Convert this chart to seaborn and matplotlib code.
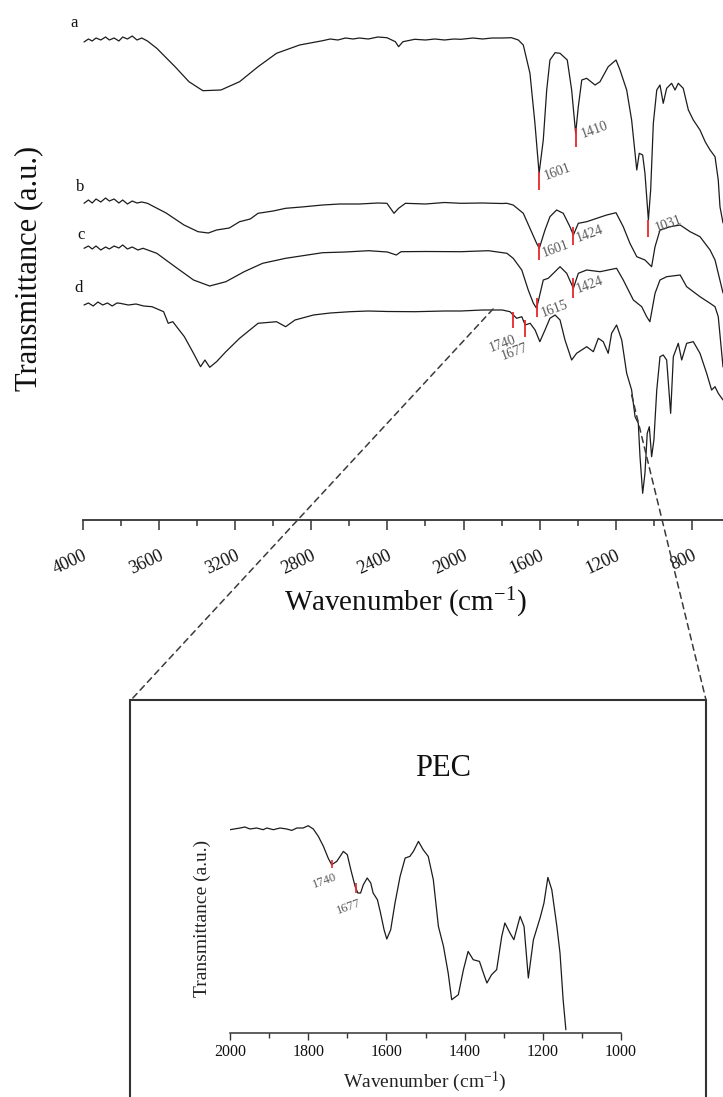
import numpy as np
import matplotlib
matplotlib.use("Agg")
import matplotlib.pyplot as plt
import seaborn as sns
from matplotlib.patches import Rectangle, ConnectionPatch
from matplotlib.ticker import MultipleLocator, FixedLocator

# ---------------- data ----------------
# spectrum a
a_wn = [3993, 3970, 3950, 3930, 3905, 3880, 3860, 3835, 3810, 3790, 3765, 3740, 3715, 3690, 3660,
        3611, 3515, 3442, 3369, 3274, 3176, 3079, 2982, 2861, 2740, 2700, 2660, 2620, 2580, 2547,
        2500, 2450, 2402, 2358, 2341, 2318, 2256, 2200, 2150, 2100, 2050, 2014, 1950, 1900, 1850,
        1800, 1748, 1712, 1686, 1651, 1625, 1603, 1581, 1563, 1546, 1519, 1493, 1455, 1432, 1411,
        1397, 1379, 1353, 1309, 1283, 1240, 1199, 1178, 1143, 1117, 1099, 1090, 1077, 1059, 1047,
        1029, 1017, 1003, 985, 968, 951, 933, 907, 889, 872, 846, 819, 793, 758, 730, 705, 679,
        662, 653, 637]
a_t = [478, 481, 479, 482, 480, 483, 480, 482, 479, 483, 481, 484, 480, 482, 479,
       471.7, 453.3, 438.3, 429.3, 430, 438.3, 453.3, 466.7, 475, 479.3, 481, 480, 482, 481, 482,
       481, 483, 482.3, 478.3, 473.3, 478.3, 480.7, 480, 481, 480, 481, 480.7, 482, 481, 482,
       482, 482.3, 480, 475, 446.7, 397, 346.7, 380, 430, 460, 467.3, 466.7, 460, 430, 386.7,
       413.3, 440, 441.7, 435, 438.3, 453.3, 460, 450, 430, 400, 366.7, 350, 366.7, 365, 346.7,
       300, 330, 396.7, 430, 435, 416.7, 431.7, 436.7, 430, 436.7, 431.7, 410, 400, 390, 378, 370, 363.3,
       340, 313.3, 297]

# spectrum b
b_wn = [3993, 3970, 3950, 3930, 3905, 3880, 3860, 3835, 3810, 3790, 3765, 3740, 3715, 3690, 3660,
        3562, 3468, 3394, 3340, 3297, 3230, 3176, 3120, 3079, 3000, 2934, 2850, 2740, 2650, 2547,
        2450, 2402, 2365, 2341, 2305, 2200, 2100, 2014, 1900, 1800, 1772, 1739, 1686, 1651, 1616,
        1602, 1572, 1546, 1511, 1476, 1441, 1423, 1397, 1353, 1300, 1248, 1199, 1161, 1126, 1090,
        1047, 1012, 994, 968, 915, 862, 810, 758, 705, 679, 662, 637]
b_t = [316.7, 320, 317, 321, 318, 322, 319, 321, 317, 320, 316, 319, 317, 318, 316.7,
       307, 295, 288.3, 287, 290, 292, 298.3, 301, 306.7, 309, 311.7, 313, 315, 316, 316,
       317, 316.7, 306.7, 311.7, 316.7, 316, 317.5, 316.7, 317, 316.5, 316.7, 315, 306.7, 291.7, 276.7,
       271.7, 290, 303.3, 310, 306.7, 293.3, 285, 296.7, 298.3, 301.7, 305, 307.3, 293.3, 276.7, 263.3,
       260, 253.3, 273.3, 290, 293.3, 295, 288.3, 283.3, 270, 260, 246.7, 227]

# spectrum c
c_wn = [3993, 3970, 3950, 3930, 3905, 3880, 3860, 3835, 3810, 3790, 3765, 3740, 3710, 3683,
        3611, 3515, 3418, 3333, 3248, 3152, 3055, 2934, 2740, 2620, 2498, 2400, 2353, 2328, 2200,
        2014, 1869, 1772, 1739, 1694, 1660, 1633, 1616, 1581, 1555, 1528, 1493, 1458, 1423, 1397,
        1353, 1283, 1240, 1196, 1161, 1108, 1064, 1038, 1021, 994, 968, 933, 862, 828, 758, 705,
        679, 662, 637]
c_t = [271.7, 274, 271, 274, 270, 273, 271, 274, 272, 275, 271, 273, 270, 271.7,
       266.7, 253.3, 240, 234, 238.3, 248.3, 256.7, 261.7, 267.3, 268, 269.3, 268, 265, 268.3, 268.5,
       268.3, 269.3, 266.7, 261.7, 250, 230, 216.7, 211.7, 240, 241.7, 246.7, 253.3, 246.7, 231.7, 246.7,
       250, 248.3, 250, 251.7, 240, 220, 213.3, 203.3, 198.3, 226.7, 240, 243.3, 245, 233.3, 223.3, 216.7,
       213.3, 203.3, 153]

# spectrum d
d_wn = [3993, 3970, 3945, 3920, 3895, 3870, 3845, 3820, 3804, 3760, 3720, 3680, 3636, 3575, 3551,
        3527, 3466, 3418, 3381, 3358, 3333, 3297, 3248, 3176, 3079, 2982, 2934, 2885, 2788, 2700,
        2596, 2500, 2400, 2256, 2100, 2014, 1900, 1796, 1756, 1721, 1694, 1676, 1650, 1624, 1599,
        1572, 1546, 1519, 1493, 1467, 1432, 1406, 1353, 1318, 1292, 1266, 1240, 1222, 1196, 1169,
        1143, 1117, 1099, 1082, 1073, 1059, 1047, 1035, 1024, 1012, 1000, 985, 968, 951, 933,
        912, 898, 872, 854, 828, 793, 758, 723, 697, 679, 662, 637]
d_t = [215, 217, 214, 218, 215, 217, 214, 217, 216.7, 215, 216, 214, 213.3, 208.3, 196.7,
       198.3, 183.3, 166.7, 153.3, 160, 152.7, 158.3, 168.3, 181.7, 196.7, 198.3, 193.3, 200, 205, 207,
       208.3, 209, 208.5, 208.3, 209, 209, 210, 210, 208.3, 201.7, 203.3, 195, 196.7, 190, 178.3,
       190, 201.7, 205, 200, 180, 160, 166.7, 173.3, 168.3, 181.7, 178.3, 166.7, 186.7, 195, 180,
       146.7, 130, 103.3, 96.7, 63.3, 26.7, 46.7, 86.7, 93.3, 63.3, 80, 130, 163.3, 165, 160,
       106.7, 163.3, 176.7, 160, 176.7, 178.3, 166.7, 146.7, 130, 133.3, 126.7, 120]

curve_names = ["a", "b", "c", "d"]

# marked peaks in the main chart: position, marker bottom/top, label anchor
peak_labels = ["1601", "1410", "1601", "1424", "1031", "1615", "1424", "1740", "1677"]
peak_wn = [1601, 1410, 1601, 1424, 1031, 1615, 1424, 1740, 1677]
peak_lo = [330, 373.3, 260, 275, 283.3, 203.3, 222, 191.7, 183.3]
peak_hi = [348.3, 392, 277, 293.3, 300, 222, 242, 208.3, 200]
label_wn = [1572, 1379, 1584, 1405, 994, 1589, 1405, 1861, 1799]
label_t = [343.3, 385, 266.7, 281.7, 291.7, 206.7, 230, 171.7, 163.3]

# inset (PEC, 2000-1000 cm-1)
pec_wn = [2000, 1974, 1962, 1949, 1932, 1915, 1906, 1889, 1872, 1855, 1842, 1829, 1813, 1800,
          1787, 1774, 1761, 1749, 1740, 1727, 1710, 1700, 1691, 1680, 1673, 1666, 1659, 1649,
          1640, 1634, 1623, 1615, 1606, 1599, 1589, 1578, 1565, 1552, 1540, 1531, 1518, 1506,
          1493, 1480, 1467, 1454, 1442, 1433, 1416, 1403, 1391, 1378, 1362, 1352, 1343, 1331,
          1318, 1305, 1297, 1284, 1274, 1258, 1248, 1237, 1224, 1207, 1197, 1187, 1177, 1164,
          1156, 1148, 1141]
pec_t = [203, 204.7, 205.7, 203.7, 204.7, 203, 204.7, 203, 204.7, 203.7, 202.3, 204.7, 204.7, 207,
         203.7, 196.3, 186.3, 174.7, 168, 171.3, 181.3, 178, 163, 146.3, 139.7, 139.7, 148, 154.7,
         149.7, 139.7, 133, 119.7, 103, 93.7, 103, 129.7, 156.3, 174.7, 176.3, 181.3, 191.3, 183,
         176.3, 153, 106.3, 86.3, 59.7, 33, 38, 63, 81.3, 73, 71.3, 59.7, 49.7, 58,
         63, 96.3, 109.7, 99.7, 93, 116.3, 106.3, 54.7, 93, 114.7, 129.7, 155.3, 143, 106.3,
         79.7, 33, 3]
pec_peak_labels = ["1740", "1677"]
pec_peak_wn = [1740, 1677]
pec_peak_lo = [165, 140]
pec_peak_hi = [173, 150]
pec_label_wn = [1787, 1727]
pec_label_t = [148, 121.3]

main_ticks = [4000, 3600, 3200, 2800, 2400, 2000, 1600, 1200, 800]
inset_ticks = [2000, 1800, 1600, 1400, 1200, 1000]

# ---------------- styling ----------------
sns.set_theme(style="white")
plt.rcParams["font.family"] = ["Liberation Serif", "DejaVu Serif"]
plt.rcParams["mathtext.fontset"] = "custom"
plt.rcParams["mathtext.rm"] = "Liberation Serif"
plt.rcParams["mathtext.it"] = "Liberation Serif:italic"

W, H = 723, 1097
fig = plt.figure(figsize=(W / 100, H / 100), dpi=100)
fig.patch.set_facecolor("white")


def fx(px):
    return px / W


def fy(py):
    return 1 - py / H


LINE = "#1c1c1c"
AXC = "#333333"
RED = "#e8262b"
GREY = "#5a5a5a"

# ---------------- main panel ----------------
ax = fig.add_axes([fx(82.7), fy(520), 1 - fx(82.7), 510 / H])
for wn, t in [(a_wn, a_t), (b_wn, b_t), (c_wn, c_t), (d_wn, d_t)]:
    sns.lineplot(x=wn, y=t, ax=ax, color=LINE, lw=0.9, sort=False, estimator=None)

ax.set_xlim(4000, 637.1)
ax.set_ylim(0, 510)
ax.set_facecolor("white")
for s in ["top", "left", "right"]:
    ax.spines[s].set_visible(False)
ax.spines["bottom"].set_color(AXC)
ax.spines["bottom"].set_linewidth(1.3)
ax.xaxis.set_major_locator(FixedLocator(main_ticks))
ax.xaxis.set_minor_locator(MultipleLocator(200))
ax.set_xticklabels([str(v) for v in main_ticks], rotation=25, ha="right",
                   rotation_mode="anchor", fontsize=13)
ax.tick_params(axis="x", which="major", bottom=True, direction="out", length=7.5,
               width=1.1, color=AXC, pad=12, labelcolor="#111111")
ax.tick_params(axis="x", which="minor", bottom=True, direction="out", length=4.5,
               width=1.1, color=AXC)
ax.tick_params(axis="y", left=False, labelleft=False)
ax.set_xlabel("")
ax.set_ylabel("")

ax.vlines(peak_wn, peak_lo, peak_hi, colors=RED, lw=1.3, zorder=3)
for lab, x, y in zip(peak_labels, label_wn, label_t):
    ax.text(x, y, lab, rotation=20, rotation_mode="anchor", ha="left", va="center",
            fontsize=10, color=GREY)

# curve letters
for name, (px, py) in zip(curve_names, [(73.7, 23), (80.6, 187), (80.6, 235), (78.3, 288)]):
    fig.text(fx(px), fy(py), name, ha="center", va="center", fontsize=12, color="#111111")

fig.text(fx(29), fy(268), "Transmittance (a.u.)", rotation=90, ha="center", va="center",
         fontsize=22, color="#111111")
fig.text(fx(405), fy(603), r"Wavenumber (cm$^{\mathrm{-1}}$)", ha="center", va="center",
         fontsize=21, color="#111111")

# ---------------- inset ----------------
box_top = 700
fig.add_artist(Rectangle((fx(130), fy(H + 20)), fx(706) - fx(130), (H + 20 - box_top) / H,
                         transform=fig.transFigure, fill=False, lw=1.5, ec=AXC))

ins = fig.add_axes([fx(230), fy(1032.7), fx(621) - fx(230), (1032.7 - 800) / H])
sns.lineplot(x=pec_wn, y=pec_t, ax=ins, color=LINE, lw=0.9, sort=False, estimator=None)
ins.set_xlim(2000, 1000)
ins.set_ylim(0, 232.7)
ins.set_facecolor("none")
for s in ["top", "left", "right"]:
    ins.spines[s].set_visible(False)
ins.spines["bottom"].set_color(AXC)
ins.spines["bottom"].set_linewidth(1.1)
ins.xaxis.set_major_locator(FixedLocator(inset_ticks))
ins.xaxis.set_minor_locator(MultipleLocator(100))
ins.set_xticklabels([str(v) for v in inset_ticks], fontsize=11.5)
ins.tick_params(axis="x", which="major", bottom=True, direction="out", length=5,
                width=1.0, color=AXC, pad=3, labelcolor="#111111")
ins.tick_params(axis="x", which="minor", bottom=True, direction="out", length=3.5,
                width=1.0, color=AXC)
ins.tick_params(axis="y", left=False, labelleft=False)
ins.set_xlabel("")
ins.set_ylabel("")
ins.vlines(pec_peak_wn, pec_peak_lo, pec_peak_hi, colors=RED, lw=1.2, zorder=3)
for lab, x, y in zip(pec_peak_labels, pec_label_wn, pec_label_t):
    ins.text(x, y, lab, rotation=20, rotation_mode="anchor", ha="left", va="center",
             fontsize=9, color=GREY)

fig.text(fx(443), fy(768), "PEC", ha="center", va="center", fontsize=22, color="#111111")
fig.text(fx(202), fy(918), "Transmittance (a.u.)", rotation=90, ha="center", va="center",
         fontsize=14, color="#222222")
fig.text(fx(425), fy(1082), r"Wavenumber (cm$^{\mathrm{-1}}$)", ha="center", va="center",
         fontsize=14, color="#222222")

# dashed zoom connectors
for (w0, t0), (bx, by) in [((1845, 211), (131, box_top)), ((1117, 125), (706, box_top))]:
    cp = ConnectionPatch(xyA=(w0, t0), coordsA=ax.transData,
                         xyB=(fx(bx), fy(by)), coordsB=fig.transFigure,
                         ls=(0, (4, 3)), lw=1.1, color="#3a3a3a")
    fig.add_artist(cp)

fig.savefig("out.png", dpi=100, facecolor="white")
